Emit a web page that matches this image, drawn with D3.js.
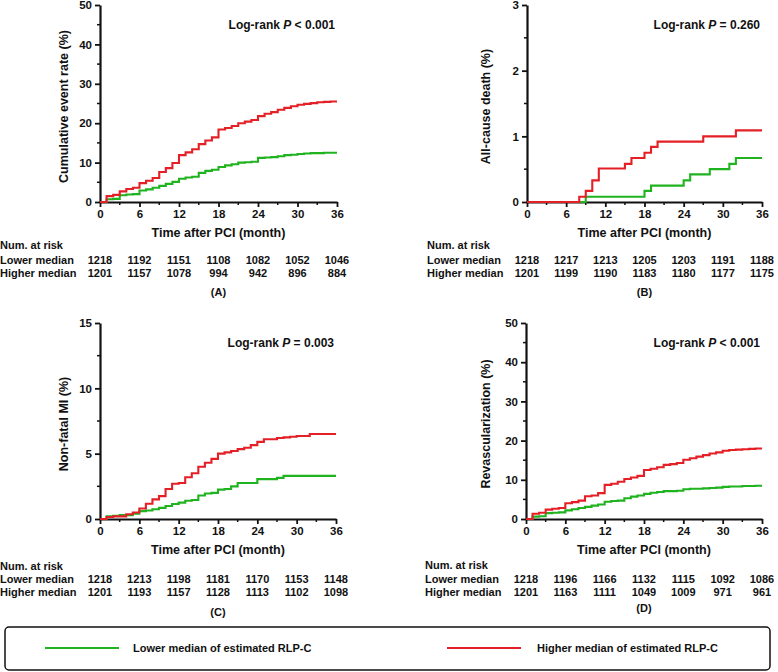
<!DOCTYPE html>
<html><head><meta charset="utf-8">
<script src="https://cdn.jsdelivr.net/npm/d3@7"></script>
<style>body{margin:0;background:#fff}svg{display:block}text{font-family:"Liberation Sans",Arial,sans-serif;font-weight:bold;fill:#111}</style>
</head><body>
<script>
const months = d3.range(0, 37);
const tickMonths = [0, 6, 12, 18, 24, 30, 36];
const seriesNames = ["Lower median of estimated RLP-C", "Higher median of estimated RLP-C"];
const rowLabels = ["Lower median", "Higher median"];

// Panel A: cumulative event rate (%)
const aLower = [0,0.7,0.8,1.7,1.9,2.0,2.9,3.2,3.6,4.1,4.6,5.1,5.9,6.2,6.4,7.4,7.9,8.2,8.9,9.3,9.6,10.0,10.1,10.2,11.2,11.3,11.4,11.6,11.9,12.0,12.2,12.3,12.4,12.4,12.5,12.5,12.5];
const aHigher = [0,1.5,1.8,2.7,3.3,3.6,4.8,5.4,6.1,7.6,8.6,9.9,11.9,12.6,13.4,14.7,15.6,16.4,18.4,18.8,19.3,20.0,20.4,20.8,21.8,22.4,22.8,23.4,23.9,24.3,24.7,24.9,25.1,25.3,25.4,25.5,25.5];
const aRiskLower = [1218,1192,1151,1108,1082,1052,1046];
const aRiskHigher = [1201,1157,1078,994,942,896,884];

// Panel B: all-cause death (%)
const bLower = [0,0,0,0,0,0,0,0,0,0.08,0.08,0.08,0.08,0.08,0.08,0.08,0.08,0.08,0.17,0.25,0.25,0.25,0.25,0.25,0.33,0.42,0.42,0.42,0.50,0.50,0.50,0.58,0.67,0.67,0.67,0.67,0.67];
const bHigher = [0,0,0,0,0,0,0,0,0.08,0.17,0.33,0.51,0.51,0.51,0.51,0.58,0.67,0.67,0.75,0.84,0.92,0.92,0.92,0.92,0.92,0.92,0.92,1.0,1.0,1.0,1.0,1.0,1.09,1.09,1.09,1.09,1.09];
const bRiskLower = [1218,1217,1213,1205,1203,1191,1188];
const bRiskHigher = [1201,1199,1190,1183,1180,1177,1175];

// Panel C: non-fatal MI (%)
const cLower = [0,0.2,0.25,0.3,0.3,0.4,0.6,0.65,0.75,0.85,1.0,1.15,1.25,1.4,1.45,1.8,1.95,2.0,2.25,2.3,2.5,2.75,2.75,2.75,3.05,3.05,3.05,3.15,3.3,3.3,3.3,3.3,3.3,3.3,3.3,3.3,3.3];
const cHigher = [0,0.15,0.2,0.2,0.36,0.5,0.8,1.17,1.5,1.75,2.3,2.7,2.75,3.2,3.5,4.0,4.3,4.6,5.0,5.1,5.2,5.35,5.45,5.65,5.9,6.1,6.1,6.2,6.25,6.3,6.35,6.35,6.5,6.5,6.5,6.5,6.5];
const cRiskLower = [1218,1213,1198,1181,1170,1153,1148];
const cRiskHigher = [1201,1193,1157,1128,1113,1102,1098];

// Panel D: revascularization (%)
const dLower = [0,0.6,0.7,1.5,1.6,1.7,2.2,2.5,2.8,3.1,3.4,3.7,4.4,4.6,4.7,5.3,5.7,6.0,6.4,6.7,6.9,7.1,7.1,7.2,7.6,7.7,7.7,7.8,7.9,8.0,8.2,8.3,8.3,8.4,8.4,8.5,8.5];
const dHigher = [0,1.35,1.6,2.4,2.6,2.8,4.0,4.3,4.7,5.8,6.0,6.6,8.7,9.0,9.5,10.2,10.6,11.0,12.5,12.8,13.2,13.8,14.0,14.3,15.1,15.5,15.9,16.3,16.7,17.0,17.4,17.6,17.7,17.8,17.9,18.0,18.0];
const dRiskLower = [1218,1196,1166,1132,1115,1092,1086];
const dRiskHigher = [1201,1163,1111,1049,1009,971,961];

const colors = ["#1fb31f", "#e41f26"];

const svg = d3.select("body").append("svg").attr("width", 778).attr("height", 672);

const panels = [
  {yLabel:"Cumulative event rate (%)", yMax:50, yStep:10, p:"< 0.001", lower:aLower, higher:aHigher, rl:aRiskLower, rh:aRiskHigher, tag:"(A)",
   x0:100, x1:337, yTop:5, yBot:202, tableX:0, rows:[245,260,273], tagY:292, yLabelX:68},
  {yLabel:"All-cause death (%)", yMax:3, yStep:1, p:"= 0.260", lower:bLower, higher:bHigher, rl:bRiskLower, rh:bRiskHigher, tag:"(B)",
   x0:527, x1:762, yTop:5, yBot:202, tableX:427, rows:[245,260,273], tagY:292, yLabelX:490},
  {yLabel:"Non-fatal MI (%)", yMax:15, yStep:5, p:"= 0.003", lower:cLower, higher:cHigher, rl:cRiskLower, rh:cRiskHigher, tag:"(C)",
   x0:100, x1:336, yTop:323, yBot:519, tableX:0, rows:[566,579,592], tagY:612, yLabelX:68},
  {yLabel:"Revascularization (%)", yMax:50, yStep:10, p:"< 0.001", lower:dLower, higher:dHigher, rl:dRiskLower, rh:dRiskHigher, tag:"(D)",
   x0:526, x1:762, yTop:323, yBot:519, tableX:425, rows:[565,579,592], tagY:608, yLabelX:490}
];

panels.forEach(P => {
  const x = d3.scaleLinear().domain([0, 36]).range([P.x0, P.x1]);
  const y = d3.scaleLinear().domain([0, P.yMax]).range([P.yBot, P.yTop]);
  const g = svg.append("g");

  // minor ticks
  const xMinor = d3.range(3, 36, 6);
  g.selectAll(".xm").data(xMinor).join("line")
    .attr("x1", d => x(d)).attr("x2", d => x(d)).attr("y1", P.yBot).attr("y2", P.yBot + 3)
    .attr("stroke", "#111").attr("stroke-width", 1.5);
  const yMinor = d3.range(P.yStep / 2, P.yMax, P.yStep);
  g.selectAll(".ym").data(yMinor).join("line")
    .attr("y1", d => y(d)).attr("y2", d => y(d)).attr("x1", P.x0).attr("x2", P.x0 - 3)
    .attr("stroke", "#111").attr("stroke-width", 1.5);

  const xAxis = d3.axisBottom(x).tickValues(tickMonths).tickSize(5).tickPadding(3).tickSizeOuter(0);
  const yAxis = d3.axisLeft(y).tickValues(d3.range(0, P.yMax + P.yStep / 2, P.yStep))
    .tickFormat(d3.format("d")).tickSize(5).tickPadding(3).tickSizeOuter(0);

  const gx = g.append("g").attr("transform", `translate(0,${P.yBot})`).call(xAxis);
  const gy = g.append("g").attr("transform", `translate(${P.x0},0)`).call(yAxis);
  [gx, gy].forEach(a => {
    a.select(".domain").attr("stroke", "#111").attr("stroke-width", 2.2);
    a.selectAll(".tick line").attr("stroke", "#111").attr("stroke-width", 1.8);
    a.selectAll(".tick text").attr("font-size", 11.5).attr("font-family", '"Liberation Sans",Arial,sans-serif').attr("font-weight", "bold").attr("fill", "#111");
  });

  // curves
  const line = d3.line().x((d, i) => x(months[i])).y(d => y(d)).curve(d3.curveStepAfter);
  [P.lower, P.higher].forEach((s, k) => {
    g.append("path").datum(s).attr("d", line).attr("fill", "none")
      .attr("stroke", colors[k]).attr("stroke-width", 2.1);
  });

  // y label
  g.append("text").attr("transform", `translate(${P.yLabelX},${(P.yTop + P.yBot) / 2 + 3}) rotate(-90)`)
    .attr("text-anchor", "middle").attr("font-size", 12.5).text(P.yLabel);

  // log-rank
  const t = g.append("text").attr("x", P.x1 - 2).attr("y", P.yTop + 24).attr("text-anchor", "end").attr("font-size", 12);
  t.append("tspan").text("Log-rank ");
  t.append("tspan").attr("font-style", "italic").text("P");
  t.append("tspan").text(" " + P.p);

  // x title
  g.append("text").attr("x", (P.x0 + P.x1) / 2).attr("y", P.yBot + 35).attr("text-anchor", "middle")
    .attr("font-size", 12.5).text("Time after PCI (month)");

  // risk table
  g.append("text").attr("x", P.tableX).attr("y", P.rows[0] + 4).attr("font-size", 11).text("Num. at risk");
  [P.rl, P.rh].forEach((r, k) => {
    g.append("text").attr("x", P.tableX).attr("y", P.rows[k + 1] + 4).attr("font-size", 11).text(rowLabels[k]);
    g.selectAll(null).data(r).join("text")
      .attr("x", (d, i) => x(tickMonths[i])).attr("y", P.rows[k + 1] + 4)
      .attr("text-anchor", "middle").attr("font-size", 11).text(d => d);
  });
  g.append("text").attr("x", (P.x0 + P.x1) / 2).attr("y", P.tagY + 4).attr("text-anchor", "middle")
    .attr("font-size", 11).text(P.tag);
});

// legend
const lg = svg.append("g");
lg.append("rect").attr("x", 5).attr("y", 627).attr("width", 765).attr("height", 43).attr("rx", 4)
  .attr("fill", "none").attr("stroke", "#111").attr("stroke-width", 1.5);
const legendPos = [{lx: 45, tx: 133}, {lx: 447, tx: 537}];
seriesNames.forEach((n, k) => {
  lg.append("line").attr("x1", legendPos[k].lx).attr("x2", legendPos[k].lx + 74).attr("y1", 648).attr("y2", 648)
    .attr("stroke", colors[k]).attr("stroke-width", 2);
  lg.append("text").attr("x", legendPos[k].tx).attr("y", 652).attr("font-size", 11).text(n);
});
</script>
</body></html>
